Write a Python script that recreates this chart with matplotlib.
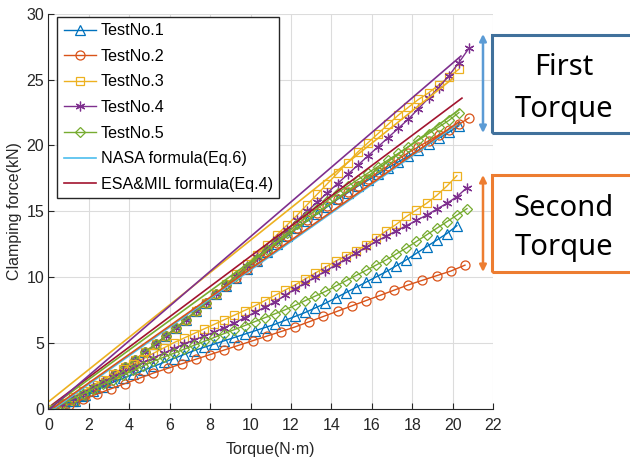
import matplotlib
matplotlib.use("Agg")
import matplotlib.pyplot as plt
import matplotlib.patches as mpatches

plt.rcParams['font.family'] = ['Liberation Sans', 'DejaVu Sans']

# MATLAB default colour order
c_blue = '#0072BD'
c_orange = '#D95319'
c_yellow = '#EDB120'
c_purple = '#7E2F8E'
c_green = '#77AC30'
c_cyan = '#4DBEEE'
c_darkred = '#A2142F'

# ---- first torque: torque (N·m) and clamping force (kN)
x_first = [0.3, 0.8, 1.3, 1.8, 2.3, 2.8, 3.3, 3.8, 4.3, 4.8, 5.3, 5.8, 6.3, 6.8,
           7.3, 7.8, 8.3, 8.8, 9.3, 9.8, 10.3, 10.8, 11.3, 11.8, 12.3, 12.8, 13.3,
           13.8, 14.3, 14.8, 15.3, 15.8, 16.3, 16.8, 17.3, 17.8, 18.3, 18.8, 19.3,
           19.8, 20.3, 20.8]
base_first = [0.0, 0.25, 0.6, 1.05, 1.55, 2.05, 2.6, 3.15, 3.7, 4.3, 4.9, 5.5,
              6.1, 6.75, 7.4, 8.05, 8.7]
test1_first = base_first + [9.3, 9.95, 10.6, 11.25, 11.9, 12.5, 13.1, 13.7, 14.25, 14.8,
                            15.35, 15.9, 16.4, 16.9, 17.35, 17.8, 18.3, 18.75, 19.2,
                            19.65, 20.1, 20.55, 21.0, 21.5]
test2_first = base_first + [9.3, 9.95, 10.6, 11.25, 11.9, 12.55, 13.15, 13.75, 14.3, 14.85,
                            15.4, 15.95, 16.45, 16.95, 17.45, 17.95, 18.45, 18.95, 19.45,
                            19.9, 20.35, 20.8, 21.2, 21.6, 22.1]
test3_first = base_first + [9.45, 10.2, 10.95, 11.7, 12.45, 13.2, 13.95, 14.7, 15.5, 16.3,
                            17.1, 17.9, 18.7, 19.5, 20.2, 20.9, 21.6, 22.3, 22.9, 23.5,
                            24.0, 24.6, 25.2, 25.8]
test4_first = base_first + [9.4, 10.1, 10.8, 11.5, 12.2, 12.9, 13.6, 14.3, 15.0, 15.7,
                            16.4, 17.1, 17.8, 18.5, 19.2, 19.9, 20.6, 21.3, 22.0, 22.8,
                            23.6, 24.4, 25.3, 26.3, 27.4]
test5_first = base_first + [9.4, 10.05, 10.75, 11.4, 12.05, 12.7, 13.35, 14.0, 14.6, 15.2,
                            15.8, 16.4, 16.9, 17.4, 17.9, 18.4, 18.9, 19.4, 19.9, 20.4,
                            20.9, 21.4, 21.9, 22.5]

# ---- second torque
x_second = [0.2, 0.7, 1.2, 1.7, 2.2, 2.7, 3.2, 3.7, 4.2, 4.7, 5.2, 5.7, 6.2, 6.7,
            7.2, 7.7, 8.2, 8.7, 9.2, 9.7, 10.2, 10.7, 11.2, 11.7, 12.2, 12.7, 13.2,
            13.7, 14.2, 14.7, 15.2, 15.7, 16.2, 16.7, 17.2, 17.7, 18.2, 18.7, 19.2,
            19.7, 20.2, 20.7]
x_second_t2 = [0.3, 1.0, 1.7, 2.4, 3.1, 3.8, 4.5, 5.2, 5.9, 6.6, 7.3, 8.0, 8.7, 9.4,
               10.1, 10.8, 11.5, 12.2, 12.9, 13.6, 14.3, 15.0, 15.7, 16.4, 17.1, 17.8,
               18.5, 19.2, 19.9, 20.6]
test1_second = [0.0, 0.25, 0.6, 0.95, 1.3, 1.65, 2.0, 2.3, 2.6, 2.9, 3.2, 3.5, 3.8, 4.1,
                4.4, 4.65, 4.9, 5.15, 5.4, 5.65, 5.9, 6.15, 6.4, 6.7, 7.0, 7.3, 7.65,
                8.0, 8.4, 8.8, 9.2, 9.6, 10.0, 10.4, 10.85, 11.3, 11.8, 12.3, 12.8,
                13.3, 13.9]
test2_second = [0.0, 0.3, 0.7, 1.1, 1.5, 1.9, 2.3, 2.7, 3.05, 3.4, 3.75, 4.1, 4.45, 4.8,
                5.15, 5.5, 5.85, 6.2, 6.6, 7.0, 7.4, 7.8, 8.2, 8.6, 9.0, 9.4, 9.75,
                10.1, 10.45, 10.9]
test3_second = [0.0, 0.4, 0.85, 1.3, 1.75, 2.2, 2.6, 3.0, 3.4, 3.8, 4.2, 4.6, 5.0, 5.35,
                5.7, 6.05, 6.4, 6.75, 7.1, 7.45, 7.8, 8.2, 8.6, 9.0, 9.4, 9.85, 10.3,
                10.75, 11.2, 11.6, 12.0, 12.4, 12.95, 13.5, 14.0, 14.6, 15.1, 15.6,
                16.2, 16.9, 17.7]
test4_second = [0.0, 0.35, 0.8, 1.2, 1.6, 2.0, 2.4, 2.8, 3.1, 3.5, 3.85, 4.2, 4.55, 4.9,
                5.2, 5.5, 5.8, 6.15, 6.5, 6.9, 7.3, 7.7, 8.1, 8.6, 9.1, 9.55, 10.0,
                10.45, 10.9, 11.35, 11.8, 12.25, 12.7, 13.1, 13.5, 13.9, 14.3, 14.7,
                15.15, 15.6, 16.1, 16.8]
test5_second = [0.0, 0.35, 0.75, 1.1, 1.5, 1.85, 2.2, 2.55, 2.9, 3.25, 3.6, 3.9, 4.2, 4.5,
                4.8, 5.1, 5.4, 5.7, 6.0, 6.3, 6.6, 6.9, 7.2, 7.5, 7.85, 8.2, 8.55, 8.9,
                9.3, 9.7, 10.1, 10.5, 10.9, 11.3, 11.75, 12.2, 12.7, 13.2, 13.7, 14.2,
                14.7, 15.2]

# ---- formula lines (start and end points)
nasa_x = [0.3, 20.2]
nasa_y = [0.0, 21.6]
esa_x = [0.2, 20.45]
esa_y = [0.3, 23.6]
extra_lines_x = [[0.3, 20.3], [0.2, 20.3], [0.0, 20.0], [0.1, 20.4]]
extra_lines_y = [[0.1, 21.8], [0.2, 22.7], [0.5, 25.1], [0.0, 26.8]]
extra_colors = [c_orange, c_green, c_yellow, c_purple]

tests_first = [test1_first, test2_first, test3_first, test4_first, test5_first]
tests_second = [test1_second, test2_second, test3_second, test4_second, test5_second]
x_seconds = [x_second, x_second_t2, x_second, x_second, x_second]
labels = ['TestNo.1', 'TestNo.2', 'TestNo.3', 'TestNo.4', 'TestNo.5']
colors = [c_blue, c_orange, c_yellow, c_purple, c_green]
markers = ['^', 'o', 's', (6, 2, 0), 'D']
msizes = [6.5, 6.5, 6, 7, 5.5]

fig = plt.figure(figsize=(6.3, 4.62), dpi=100)
ax = fig.add_axes([0.0767, 0.1158, 0.7063, 0.854])

handles = []
for yv, lab, col, mk, ms in zip(tests_first, labels, colors, markers, msizes):
    h, = ax.plot(x_first[:len(yv)], yv, color=col, marker=mk, ms=ms, mfc='none',
                 mec=col, lw=1, mew=0.9, label=lab)
    handles.append(h)
for xv, yv, col, mk, ms in zip(x_seconds, tests_second, colors, markers, msizes):
    ax.plot(xv[:len(yv)], yv, color=col, marker=mk, ms=ms, mfc='none',
            mec=col, lw=1, mew=0.9)

h, = ax.plot(nasa_x, nasa_y, color=c_cyan, lw=1.2, label='NASA formula(Eq.6)')
handles.append(h)
h, = ax.plot(esa_x, esa_y, color=c_darkred, lw=1.2, label='ESA&MIL formula(Eq.4)')
handles.append(h)
for lx, ly, col in zip(extra_lines_x, extra_lines_y, extra_colors):
    ax.plot(lx, ly, color=col, lw=1.2)

ax.set_xlim(0, 22)
ax.set_ylim(0, 30)
ax.set_xticks(range(0, 23, 2))
ax.set_yticks(range(0, 31, 5))
ax.grid(True, color='#dcdcdc', lw=0.8)
ax.set_axisbelow(True)
for s in ['top', 'right']:
    ax.spines[s].set_visible(False)
for s in ['left', 'bottom']:
    ax.spines[s].set_color('#262626')
ax.tick_params(direction='in', length=4, colors='#262626', labelsize=11.5)
ax.tick_params(axis='x', pad=7)
ax.tick_params(axis='y', pad=3)
ax.set_xlabel('Torque(N·m)', fontsize=11.5, color='#262626', labelpad=6)
ax.set_ylabel('Clamping force(kN)', fontsize=11.5, color='#262626', labelpad=3)

leg = ax.legend(handles=handles, loc='upper left', bbox_to_anchor=(0.02, 0.993),
                fontsize=11.6, frameon=True, fancybox=False, edgecolor='#262626',
                borderaxespad=0, handlelength=2.0, labelspacing=0.66, borderpad=0.4,
                handletextpad=0.3, framealpha=1)
leg.get_frame().set_linewidth(1.0)

# ---- right-hand annotations, placed in figure pixels
fig_w, fig_h = 630, 462
def fx(px):
    return px / fig_w
def fy(py):
    return 1 - py / fig_h

fig.patches.append(mpatches.Rectangle((fx(492), fy(133)), fx(150), 98 / fig_h,
                                      transform=fig.transFigure, fill=False,
                                      edgecolor='#41719C', lw=2.2))
fig.patches.append(mpatches.Rectangle((fx(492), fy(272)), fx(150), 97 / fig_h,
                                      transform=fig.transFigure, fill=False,
                                      edgecolor='#ED7D31', lw=2.2))
txt_font = ['Noto Sans', 'DejaVu Sans']
for word, py in [('First', 75), ('Torque', 117), ('Second', 216), ('Torque', 255)]:
    fig.text(fx(564), fy(py), word, ha='center', va='baseline', fontsize=21,
             family=txt_font)

ax.annotate('', xy=(fx(483), fy(34)), xytext=(fx(483), fy(133)),
            xycoords='figure fraction', textcoords='figure fraction',
            arrowprops=dict(arrowstyle='<|-|>', color='#5B9BD5', lw=1.8,
                            mutation_scale=10, shrinkA=0, shrinkB=0))
ax.annotate('', xy=(fx(483), fy(175)), xytext=(fx(483), fy(272)),
            xycoords='figure fraction', textcoords='figure fraction',
            arrowprops=dict(arrowstyle='<|-|>', color='#ED7D31', lw=1.8,
                            mutation_scale=10, shrinkA=0, shrinkB=0))

fig.savefig('out.png', dpi=100)
